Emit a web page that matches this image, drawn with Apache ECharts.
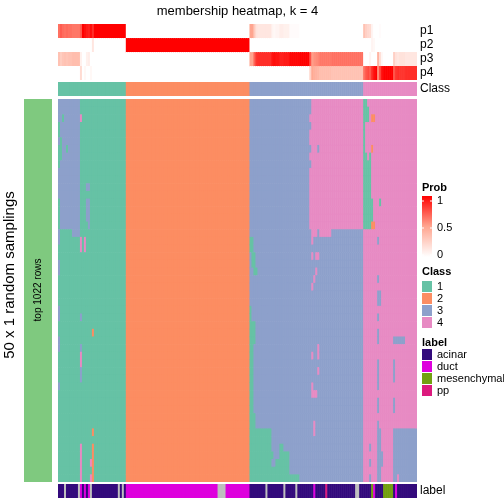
<!DOCTYPE html>
<html><head><meta charset="utf-8">
<script src="https://cdn.jsdelivr.net/npm/echarts@6/dist/echarts.min.js"></script>
<style>html,body{margin:0;padding:0;background:#fff}#c{width:504px;height:504px}</style>
</head><body><div id="c"></div>
<script>
const titleText = 'membership heatmap, k = 4';
const nSamplings = 50;
const probRows = ['p1', 'p2', 'p3', 'p4'];
const classNames = ['1', '2', '3', '4'];
const classSizes = [34, 62, 57, 27];
const classColors = ['#66C2A5', '#FC8D62', '#8DA0CB', '#E78AC3'];
const labelNames = ['acinar', 'duct', 'mesenchymal', 'pp'];
const labelColors = ['#330A7C', '#DE00DD', '#72A010', '#DC1A7E', '#BEBEBE']; // last = NA
// sample labels, run-length: [label index (4 = NA), number of samples]
const labelRuns = [
  [0,3],[4,1],[0,6],[4,1],[1,1],[0,1],[1,1],[0,1],[1,1],[4,1],[0,13],[4,1],[0,1],[4,1],[0,1],
  [1,46],[4,4],[1,12],
  [0,8],[4,1],[0,8],[4,1],[0,5],[4,1],[0,8],[1,1],[0,5],[3,1],[0,14],[4,2],[0,2],
  [0,4],[2,1],[1,1],[0,4],[2,5],[0,1],[1,1],[0,10]
];
// class assigned to each sample in each of the 50 samplings:
// [number of adjacent samples sharing the pattern, "class:count" runs from the top sampling]
const sampleRuns = [
  [1, '3:3 1:2 3:1 1:3 3:4 1:4 3:2 1:2 3:2 1:4 3:2 1:2 3:2 1:4 3:1 1:12'],
  [1, '3:5 1:3 3:9 1:33'],
  [1, '3:2 1:1 3:14 1:33'],
  [1, '3:17 1:33'],
  [1, '3:6 1:1 3:10 1:33'],
  [2, '3:17 1:33'],
  [4, '3:18 1:32'],
  [1, '1:2 4:1 1:15 4:2 1:8 3:1 1:3 3:1 4:2 3:2 1:8 4:5'],
  [1, '1:50'],
  [1, '1:18 4:2 1:30'],
  [1, '1:11 3:1 1:1 3:3 1:34'],
  [1, '1:11 3:1 1:1 3:4 1:33'],
  [1, '1:47 4:1 1:1 4:1'],
  [1, '1:30 2:1 1:12 2:1 1:1 2:5'],
  [16, '1:50'],
  [62, '2:50'],
  [1, '3:18 1:2 3:7 1:23'],
  [1, '3:18 1:4 3:7 1:21'],
  [1, '3:20 1:3 3:6 1:3 3:9 1:9'],
  [1, '3:22 1:1 3:20 1:7'],
  [7, '3:43 1:7'],
  [1, '3:46 1:1 3:1 1:2'],
  [1, '3:48 1:2'],
  [2, '3:47 1:3'],
  [2, '3:45 1:5'],
  [3, '3:46 1:4'],
  [5, '3:49 1:1'],
  [5, '3:50'],
  [1, '3:2 4:1 3:1 4:2 3:1 4:1 3:1 4:8 3:33'],
  [1, '4:19 3:1 4:1 3:3 4:1 3:8 4:1 3:3 4:2 3:11'],
  [1, '4:18 3:5 4:1 3:14 4:1 3:3 4:2 3:6'],
  [1, '4:18 3:2 4:1 3:1 4:1 3:15 4:1 3:11'],
  [1, '4:6 3:1 4:10 3:3 4:1 3:11 4:2 3:1 4:1 3:14'],
  [6, '4:18 3:32'],
  [16, '4:17 3:33'],
  [1, '1:17 4:33'],
  [1, '1:3 4:4 1:10 4:33'],
  [1, '4:1 1:2 4:5 1:9 4:33'],
  [1, '4:7 1:10 4:28 3:1 4:1 3:1 4:1 3:1'],
  [1, '4:2 2:1 4:3 2:1 4:6 1:3 2:1 4:33'],
  [1, '4:2 2:1 4:13 2:1 4:33'],
  [1, '4:50'],
  [1, '4:18 3:1 4:4 3:1 4:1 3:2 4:1 3:1 4:1 3:2 4:2 3:4 4:1 3:2 4:1 3:8'],
  [1, '4:13 1:1 4:11 3:2 4:16 3:7'],
  [1, '4:46 3:2 4:2'],
  [5, '4:50'],
  [1, '4:31 3:1 4:2 3:3 4:2 3:2 4:2 3:7'],
  [1, '4:31 3:1 4:11 3:7'],
  [1, '4:31 3:1 4:11 3:6 4:1'],
  [3, '4:31 3:1 4:11 3:7'],
  [6, '4:43 3:7']
];

// ---- decode ----
const columns = [];
sampleRuns.forEach(([n, s]) => {
  const v = [];
  s.split(' ').forEach(t => { const [c, k] = t.split(':').map(Number); for (let i = 0; i < k; i++) v.push(c); });
  for (let j = 0; j < n; j++) columns.push(v);
});
const nSamples = columns.length;
const sampleIdx = columns.map((_, i) => i);
const rowIdx = Array.from({length: nSamplings}, (_, i) => i);

const mainData = [];
columns.forEach((v, x) => v.forEach((c, y) => mainData.push([x, y, c])));
// membership probability = share of samplings assigning the sample to each class
const probData = [];
columns.forEach((v, x) => {
  for (let k = 1; k <= 4; k++) probData.push([x, k - 1, v.filter(c => c === k).length / v.length]);
});
const classData = [];
let pos = 0;
classSizes.forEach((n, k) => { for (let i = 0; i < n; i++) classData.push([pos++, 0, k + 1]); });
const labelData = [];
pos = 0;
labelRuns.forEach(([l, n]) => { for (let i = 0; i < n; i++) labelData.push([pos++, 0, l]); });

const FONT = '"Liberation Sans", Arial, sans-serif';
const L = 58, W = 359;
const grids = [
  {left: L, width: W, top: 24, height: 56},
  {left: L, width: W, top: 82, height: 14},
  {left: L, width: W, top: 99, height: 383},
  {left: L, width: W, top: 484, height: 14}
];
const xAxes = grids.map((g, i) => ({type: 'category', gridIndex: i, data: sampleIdx, show: false}));
const yLab = {show: true, interval: 0, margin: 3, fontSize: 12, color: '#000', fontFamily: FONT};
const yAxes = [
  {type: 'category', gridIndex: 0, data: probRows, inverse: true, position: 'right', axisLine: {show: false}, axisTick: {show: false}, axisLabel: yLab},
  {type: 'category', gridIndex: 1, data: ['Class'], position: 'right', axisLine: {show: false}, axisTick: {show: false}, axisLabel: yLab},
  {type: 'category', gridIndex: 2, data: rowIdx, inverse: true, show: false},
  {type: 'category', gridIndex: 3, data: ['label'], position: 'right', axisLine: {show: false}, axisTick: {show: false}, axisLabel: yLab}
];
function renderCell(params, api) {
  const p = api.coord([api.value(0), api.value(1)]);
  const s = api.size([1, 1]);
  const x0 = p[0] - s[0] / 2, y0 = p[1] - s[1] / 2;
  const cs = params.coordSys;
  const x1 = Math.min(p[0] + s[0] / 2 + 0.6, cs.x + cs.width);
  const y1 = Math.min(p[1] + s[1] / 2 + 0.6, cs.y + cs.height);
  return {type: 'rect', shape: {x: x0, y: y0, width: x1 - x0, height: y1 - y0},
    style: {fill: api.visual('color'), stroke: null}};
}
const hm = (i, data) => ({type: 'custom', xAxisIndex: i, yAxisIndex: i, data, renderItem: renderCell,
  encode: {x: 0, y: 1}, progressive: 0, silent: true});

const g = [];
const txt = (x, y, text, extra) => g.push(Object.assign({type: 'text', x, y, silent: true,
  style: Object.assign({text, fontSize: 11, fontFamily: FONT, fill: '#000', verticalAlign: 'middle'}, extra || {})}));
txt(237.5, 11, titleText, {align: 'center', fontSize: 13});
g.push({type: 'rect', shape: {x: 24, y: 99, width: 28, height: 383}, style: {fill: '#7FC97F'}, silent: true});
g.push({type: 'text', x: 38, y: 290, rotation: Math.PI / 2, silent: true,
  style: {text: 'top 1022 rows', fontSize: 10, fontFamily: FONT, fill: '#000', align: 'center', verticalAlign: 'middle'}});
g.push({type: 'text', x: 10, y: 275, rotation: Math.PI / 2, silent: true,
  style: {text: '50 x 1 random samplings', fontSize: 15, fontFamily: FONT, fill: '#000', align: 'center', verticalAlign: 'middle'}});
// Prob legend
txt(422, 188, 'Prob', {fontWeight: 'bold'});
g.push({type: 'rect', shape: {x: 422, y: 196, width: 10, height: 61}, silent: true,
  style: {fill: new echarts.graphic.LinearGradient(0, 0, 0, 1, [
    {offset: 0, color: '#FF0000'}, {offset: 0.5, color: '#FFA58F'}, {offset: 1, color: '#FFFFFF'}])}});
[[201, '1'], [228, '0.5'], [255, '0']].forEach(([y, t]) => {
  txt(437, y, t);
  g.push({type: 'line', shape: {x1: 422, y1: y, x2: 424, y2: y}, style: {stroke: '#fff', lineWidth: 1}, silent: true});
  g.push({type: 'line', shape: {x1: 430, y1: y, x2: 432, y2: y}, style: {stroke: '#fff', lineWidth: 1}, silent: true});
});
// Class legend
txt(422, 272, 'Class', {fontWeight: 'bold'});
classNames.forEach((n, i) => {
  g.push({type: 'rect', shape: {x: 422, y: 281 + 12 * i, width: 10, height: 11}, style: {fill: classColors[i]}, silent: true});
  txt(437, 287 + 12 * i, n);
});
// label legend
txt(422, 343, 'label', {fontWeight: 'bold'});
labelNames.forEach((n, i) => {
  g.push({type: 'rect', shape: {x: 422, y: 349 + 12 * i, width: 10, height: 11}, style: {fill: labelColors[i]}, silent: true});
  txt(437, 355 + 12 * i, n);
});

const chart = echarts.init(document.getElementById('c'), null, {renderer: 'canvas'});
chart.setOption({
  animation: false,
  backgroundColor: '#fff',
  textStyle: {fontFamily: FONT},
  grid: grids,
  xAxis: xAxes,
  yAxis: yAxes,
  visualMap: [
    {type: 'continuous', seriesIndex: 0, dimension: 2, min: 0, max: 1, show: false,
     inRange: {color: ['#FFFFFF', '#FFA58F', '#FF0000']}},
    {type: 'piecewise', seriesIndex: [1, 2], dimension: 2, show: false,
     pieces: classColors.map((c, i) => ({value: i + 1, color: c}))},
    {type: 'piecewise', seriesIndex: 3, dimension: 2, show: false,
     pieces: labelColors.map((c, i) => ({value: i, color: c}))}
  ],
  series: [hm(0, probData), hm(1, classData), hm(2, mainData), hm(3, labelData)],
  graphic: g
});
</script></body></html>
